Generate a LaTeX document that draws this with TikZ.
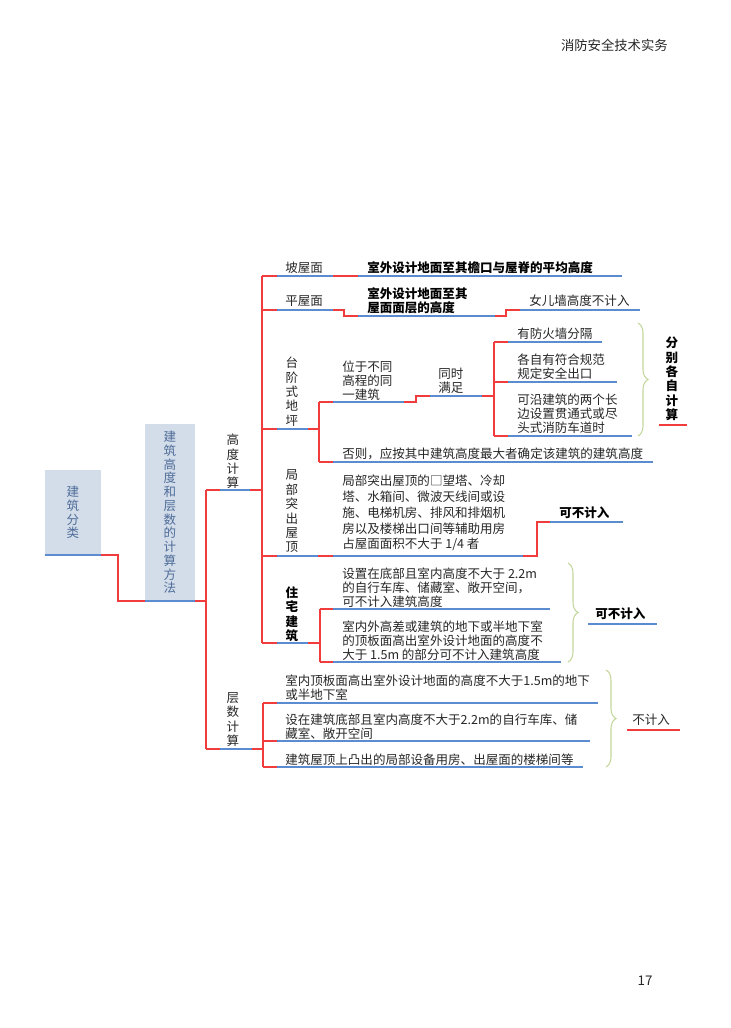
\documentclass[tikz,border=0pt]{standalone}
\usepackage{fontspec}
\newfontfamily\cjk{Noto Sans CJK SC}
\usetikzlibrary{decorations.pathreplacing}
\definecolor{lred}{HTML}{F03C3C}
\definecolor{lblue}{HTML}{5B8CD0}
\definecolor{lgreen}{HTML}{C3D69B}
\definecolor{boxfill}{HTML}{D3DDEA}
\definecolor{boxtxt}{HTML}{4E6C98}
\definecolor{tgray}{HTML}{262626}
\begin{document}
\begin{tikzpicture}[x=0.75pt,y=-0.75pt,
 rl/.style={draw=lred, line width=0.8pt},
 bl/.style={draw=lblue, line width=0.8pt},
 brc/.style={draw=lgreen, line width=0.8pt, decorate, decoration={brace, amplitude=7.5pt}},
 tx/.style={font=\cjk\fontsize{9.4}{10.5}\selectfont, text=tgray, inner sep=0pt, align=left, anchor=west},
 txw/.style={font=\cjk\fontsize{9.4}{11.9}\selectfont, text=tgray, inner sep=0pt, align=left, anchor=west},
 txb/.style={font=\cjk\bfseries\fontsize{9.4}{10.5}\selectfont, text=black, inner sep=0pt, align=left, anchor=west},
 vt/.style={font=\cjk\fontsize{9.4}{10.8}\selectfont, text=tgray, inner sep=0pt, align=center},
 vtb/.style={font=\cjk\bfseries\fontsize{9.4}{10.8}\selectfont, text=black, inner sep=0pt, align=center},
 bx/.style={fill=boxfill, text=boxtxt, inner sep=0pt, align=center, font=\cjk\fontsize{9.4}{10.3}\selectfont}]
\useasboundingbox (0,0) rectangle (731,1028);

% header and page number
\node[anchor=east, inner sep=0pt, text=tgray, font=\cjk\fontsize{10}{12}\selectfont] (hdr) at (668,45) {消防安全技术实务};
\node[inner sep=0pt, text=tgray, font=\cjk\fontsize{10}{12}\selectfont] (pg) at (645,981) {17};

% boxes
\node[bx, minimum width=42pt, minimum height=63.75pt] (root) at (73,512.5) {建\\筑\\分\\类};
\node[bx, minimum width=37.5pt, minimum height=132.75pt] (box2) at (170,512.5) {建\\筑\\高\\度\\和\\层\\数\\的\\计\\算\\方\\法};

% vertical labels
\node[vt] (gd) at (233,461.5) {高\\度\\计\\算};
\node[vt] (cs) at (233,719.5) {层\\数\\计\\算};
\node[vt] (tj) at (292,391.7) {台\\阶\\式\\地\\坪};
\node[vt] (jb) at (292,511.5) {局\\部\\突\\出\\屋\\顶};
\node[vtb] (zz) at (292,614) {住\\宅\\建\\筑};
\node[vtb] (fb) at (672,379) {分\\别\\各\\自\\计\\算};

% texts
\node[tx] (pw) at (285,268) {坡屋面};
\node[txb] (pwt) at (367,268) {室外设计地面至其檐口与屋脊的平均高度};
\node[tx] (pm) at (285,301) {平屋面};
\node[txb] (pmt) at (367,301) {室外设计地面至其\\屋面面层的高度};
\node[tx] (ne) at (529,301) {女儿墙高度不计入};
\node[tx] (wy) at (342,380.5) {位于不同\\高程的同\\一建筑};
\node[tx] (ts) at (438,381) {同时\\满足};
\node[tx] (c1) at (517,334) {有防火墙分隔};
\node[tx] (c2) at (517,367) {各自有符合规范\\规定安全出口};
\node[tx] (c3) at (517,414) {可沿建筑的两个长\\边设置贯通式或尽\\头式消防车道时};
\node[tx] (fz) at (342,453.5) {否则，应按其中建筑高度最大者确定该建筑的建筑高度};
\node[txw] (jt) at (342,513) {局部突出屋顶的□望塔、冷却\\塔、水箱间、微波天线间或设\\施、电梯机房、排风和排烟机\\房以及楼梯出口间等辅助用房\\占屋面面积不大于 1/4 者};
\node[txb] (kb1) at (559,513) {可不计入};
\node[tx] (z1) at (342,588) {设置在底部且室内高度不大于 2.2m\\的自行车库、储藏室、敞开空间，\\可不计入建筑高度};
\node[tx] (z2) at (342,641) {室内外高差或建筑的地下或半地下室\\的顶板面高出室外设计地面的高度不\\大于 1.5m 的部分可不计入建筑高度};
\node[txb] (kb2) at (595,614) {可不计入};
\node[tx] (s1) at (285,687.5) {室内顶板面高出室外设计地面的高度不大于1.5m的地下\\或半地下室};
\node[tx] (s2) at (285,727) {设在建筑底部且室内高度不大于2.2m的自行车库、储\\藏室、敞开空间};
\node[tx] (s3) at (285,760) {建筑屋顶上凸出的局部设备用房、出屋面的楼梯间等};
\node[tx] (bj) at (632,720) {不计入};

% junction coordinates
\coordinate (rootE) at (101,555);
\coordinate (box2W) at (145,601);
\coordinate (box2E) at (195,601);
\coordinate (sp1t) at (206,490);
\coordinate (sp1b) at (206,749);
\coordinate (sp2t) at (262,276);
\coordinate (sp2b) at (262,643);
\coordinate (sp3t) at (319,402);
\coordinate (sp3b) at (319,462);
\coordinate (sp4t) at (494,342);
\coordinate (sp4b) at (494,436);
\coordinate (sp5t) at (320,609);
\coordinate (sp5b) at (320,662);
\coordinate (sp6t) at (263,703);
\coordinate (sp6b) at (263,767);

% root and box2 links
\draw[bl] (45,555) -- (rootE);
\draw[rl] (rootE) -- (118,555) -- (118,601) -- (box2W);
\draw[bl] (box2W) -- (box2E);
\draw[rl] (box2E) -- (206,601);
\draw[rl] (sp1t) -- (sp1b);

% 高度计算
\draw[rl] (sp1t) -- (220,490);
\draw[bl] (220,490) -- (250,490);
\draw[rl] (250,490) -- (262,490);
\draw[rl] (sp2t) -- (sp2b);

% 坡屋面
\draw[rl] (sp2t) -- (277,276);
\draw[bl] (277,276) -- (333,276);
\draw[rl] (333,276) -- (358,276);
\draw[bl] (358,276) -- (622,276);

% 平屋面
\draw[rl] (262,310) -- (277,310);
\draw[bl] (277,310) -- (333,310);
\draw[rl] (333,310) -- (344,310) -- (344,316) -- (358,316);
\draw[bl] (358,316) -- (495,316);
\draw[rl] (495,316) -- (506,316) -- (506,310) -- (520,310);
\draw[bl] (520,310) -- (640,310);

% 台阶式地坪
\draw[rl] (262,429) -- (277,429);
\draw[bl] (277,429) -- (308,429);
\draw[rl] (308,429) -- (319,429);
\draw[rl] (sp3t) -- (sp3b);
\draw[rl] (sp3t) -- (333,402);
\draw[bl] (333,402) -- (404,402);
\draw[rl] (404,402) -- (416,402) -- (416,396) -- (430,396);
\draw[bl] (430,396) -- (482,396);
\draw[rl] (482,396) -- (494,396);
\draw[rl] (sp4t) -- (sp4b);
\draw[rl] (sp4t) -- (508,342);
\draw[bl] (508,342) -- (602,342);
\draw[rl] (494,382) -- (508,382);
\draw[bl] (508,382) -- (617,382);
\draw[rl] (sp4b) -- (508,436);
\draw[bl] (508,436) -- (632,436);
\draw[rl] (sp3b) -- (333,462);
\draw[bl] (333,462) -- (653,462);
\draw[brc] (638,323) -- (638,436);
\draw[rl] (659,425) -- (687,425);

% 局部突出屋顶
\draw[rl] (262,556) -- (277,556);
\draw[bl] (277,556) -- (318,556);
\draw[rl] (318,556) -- (333,556);
\draw[bl] (333,556) -- (523,556);
\draw[rl] (523,556) -- (537,556) -- (537,522) -- (550,522);
\draw[bl] (550,522) -- (623,522);

% 住宅建筑
\draw[rl] (sp2b) -- (277,643);
\draw[bl] (277,643) -- (308,643);
\draw[rl] (308,643) -- (320,643);
\draw[rl] (sp5t) -- (sp5b);
\draw[rl] (sp5t) -- (333,609);
\draw[bl] (333,609) -- (550,609);
\draw[rl] (sp5b) -- (333,662);
\draw[bl] (333,662) -- (561,662);
\draw[brc] (568,563) -- (568,662);
\draw[bl] (588,624) -- (657,624);

% 层数计算
\draw[rl] (sp1b) -- (220,749);
\draw[bl] (220,749) -- (252,749);
\draw[rl] (252,749) -- (263,749);
\draw[rl] (sp6t) -- (sp6b);
\draw[rl] (sp6t) -- (277,703);
\draw[bl] (277,703) -- (598,703);
\draw[rl] (263,741) -- (277,741);
\draw[bl] (277,741) -- (590,741);
\draw[rl] (sp6b) -- (277,767);
\draw[bl] (277,767) -- (583,767);
\draw[brc] (606,670) -- (606,767);
\draw[rl] (627,730) -- (680,730);
\end{tikzpicture}
\end{document}
